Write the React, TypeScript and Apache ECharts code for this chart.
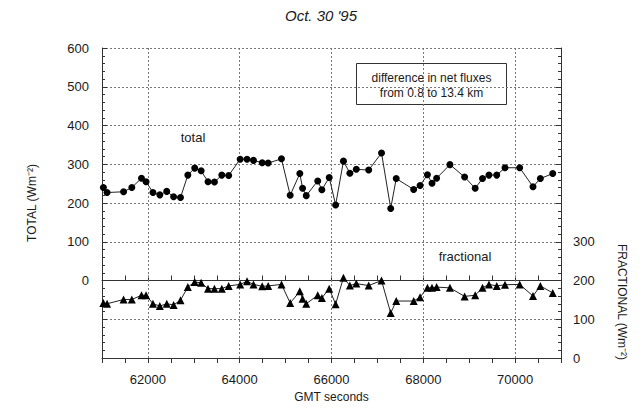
import React, { useEffect, useRef } from "react";
import * as echarts from "echarts";

const times = [
  61030, 61110, 61470, 61650, 61860, 61960, 62110, 62260, 62410, 62560, 62710,
  62870, 63020, 63160, 63310, 63450, 63610, 63760, 64010, 64160, 64300, 64490,
  64620, 64910, 65100, 65310, 65370, 65450, 65700, 65790, 65950, 66090, 66260,
  66400, 66540, 66810, 67090, 67290, 67410, 67790, 67930, 68090, 68190, 68290,
  68580, 68900, 69130, 69290, 69430, 69600, 69780, 70100, 70390, 70550, 70820,
];

const totalValues = [
  240, 227, 229, 240, 264, 255, 227, 221, 230, 216, 214, 272, 290, 283, 255,
  254, 272, 271, 313, 313, 310, 304, 303, 314, 220, 276, 238, 219, 257, 234,
  266, 195, 308, 277, 287, 285, 329, 186, 263, 235, 245, 273, 251, 264, 299,
  267, 238, 263, 272, 272, 291, 291, 242, 263, 276,
];

const fractionalValues = [
  142, 140, 151, 151, 162, 162, 140, 134, 140, 137, 149, 183, 196, 194, 179,
  179, 179, 186, 190, 198, 190, 185, 186, 190, 142, 172, 153, 140, 162, 155,
  179, 139, 207, 187, 192, 187, 200, 116, 147, 147, 157, 181, 181, 183, 181,
  159, 162, 181, 190, 186, 189, 190, 160, 186, 168,
];

const xTickLabels = [62000, 64000, 66000, 68000, 70000];

const titleText = "Oct. 30 '95";
const xAxisName = "GMT seconds";
const leftAxisName = "TOTAL (Wm⁻²)";
const rightAxisName = "FRACTIONAL (Wm⁻²)";
const boxLines = ["difference in net fluxes", "from 0.8 to 13.4 km"];
const totalLabel = "total";
const fractionalLabel = "fractional";

const FONT = "Liberation Sans, Arial, sans-serif";
const INK = "#1a1a1a";

export default function App() {
  const ref = useRef<HTMLDivElement>(null);

  useEffect(() => {
    document.body.style.margin = "0";
    if (!ref.current) return;
    const chart = echarts.init(ref.current, undefined, { renderer: "svg" });

    const axisLineStyle = { lineStyle: { color: "#333", width: 1 } };
    const tickStyle = { inside: true, length: 5, lineStyle: { color: "#333" } };
    const minorStyle = (n: number) => ({
      show: true,
      splitNumber: n,
      length: 3,
      lineStyle: { color: "#333" },
    });
    const dotted = { color: "#777", type: [2, 2] as any, width: 1 };

    chart.setOption({
      animation: false,
      backgroundColor: "#fff",
      title: {
        text: titleText,
        left: "center",
        top: 3,
        textStyle: {
          fontFamily: FONT,
          fontStyle: "italic",
          fontWeight: "normal",
          fontSize: 15,
          color: INK,
        },
      },
      grid: { left: 102, right: 81, top: 48, bottom: 59, containLabel: false },
      xAxis: [
        {
          type: "value",
          min: 61000,
          max: 71000,
          interval: 500,
          position: "bottom",
          name: xAxisName,
          nameLocation: "middle",
          nameGap: 31,
          nameTextStyle: { fontFamily: FONT, fontSize: 12, color: INK },
          axisLine: axisLineStyle,
          axisTick: tickStyle,
          splitLine: { show: false },
          axisLabel: {
            fontFamily: FONT,
            fontSize: 13,
            color: INK,
            margin: 15,
            hideOverlap: false,
            formatter: (v: number) =>
              xTickLabels.indexOf(v) >= 0 ? String(v) : "",
          },
        },
        {
          type: "value",
          min: 61000,
          max: 71000,
          interval: 500,
          position: "top",
          axisLine: axisLineStyle,
          axisTick: tickStyle,
          splitLine: { show: false },
          axisLabel: { show: false },
        },
      ],
      yAxis: [
        {
          type: "value",
          min: -200,
          max: 600,
          interval: 100,
          position: "left",
          name: leftAxisName,
          nameLocation: "middle",
          nameGap: 64,
          nameRotate: 90,
          nameTextStyle: { fontFamily: FONT, fontSize: 12, color: INK },
          axisLine: { show: true, ...axisLineStyle },
          axisTick: tickStyle,
          minorTick: minorStyle(5),
          splitLine: { show: true, lineStyle: dotted },
          axisLabel: {
            fontFamily: FONT,
            fontSize: 13,
            color: INK,
            margin: 13,
            formatter: (v: number) => (v < 0 ? "" : String(v)),
          },
        },
        {
          type: "value",
          min: 0,
          max: 800,
          interval: 100,
          position: "right",
          axisLine: { show: true, ...axisLineStyle },
          axisTick: tickStyle,
          minorTick: minorStyle(5),
          splitLine: { show: false },
          axisLabel: {
            fontFamily: FONT,
            fontSize: 13,
            color: INK,
            margin: 12,
            formatter: (v: number) => (v > 300 ? "" : String(v)),
          },
        },
      ],
      series: [
        {
          name: "total",
          type: "line",
          xAxisIndex: 0,
          yAxisIndex: 0,
          data: times.map((t, i) => [t, totalValues[i]]),
          symbol: "circle",
          symbolSize: 7,
          itemStyle: { color: "#000" },
          lineStyle: { color: "#222", width: 1 },
          z: 3,
          markLine: {
            silent: true,
            symbol: "none",
            label: { show: false },
            lineStyle: dotted,
            z: 1,
            data: xTickLabels.map((v) => ({ xAxis: v })),
          },
        },
        {
          name: "fractional",
          type: "line",
          xAxisIndex: 0,
          yAxisIndex: 1,
          data: times.map((t, i) => [t, fractionalValues[i]]),
          symbol: "triangle",
          symbolSize: 8,
          itemStyle: { color: "#000" },
          lineStyle: { color: "#222", width: 1 },
          z: 3,
        },
      ],
      graphic: [
        {
          type: "group",
          left: 356,
          top: 63,
          children: [
            {
              type: "rect",
              shape: { x: 0, y: 0, width: 150, height: 41 },
              style: { fill: "#fff", stroke: "#333", lineWidth: 1 },
            },
            {
              type: "text",
              x: 75,
              y: 14,
              style: {
                text: boxLines[0],
                fontFamily: FONT,
                fontSize: 12,
                fill: INK,
                textAlign: "center",
                textVerticalAlign: "middle",
              },
            },
            {
              type: "text",
              x: 75,
              y: 29,
              style: {
                text: boxLines[1],
                fontFamily: FONT,
                fontSize: 12,
                fill: INK,
                textAlign: "center",
                textVerticalAlign: "middle",
              },
            },
          ],
        },
        {
          type: "text",
          x: 193,
          y: 137,
          style: {
            text: totalLabel,
            fontFamily: FONT,
            fontSize: 13,
            fill: INK,
            textAlign: "center",
            textVerticalAlign: "middle",
          },
        },
        {
          type: "text",
          x: 465,
          y: 256,
          style: {
            text: fractionalLabel,
            fontFamily: FONT,
            fontSize: 13,
            fill: INK,
            textAlign: "center",
            textVerticalAlign: "middle",
          },
        },
        {
          type: "text",
          x: 622,
          y: 302,
          rotation: -Math.PI / 2,
          style: {
            text: rightAxisName,
            fontFamily: FONT,
            fontSize: 12,
            fill: INK,
            textAlign: "center",
            textVerticalAlign: "middle",
          },
        },
      ],
    });

    return () => chart.dispose();
  }, []);

  return <div ref={ref} style={{ width: 642, height: 417 }} />;
}
